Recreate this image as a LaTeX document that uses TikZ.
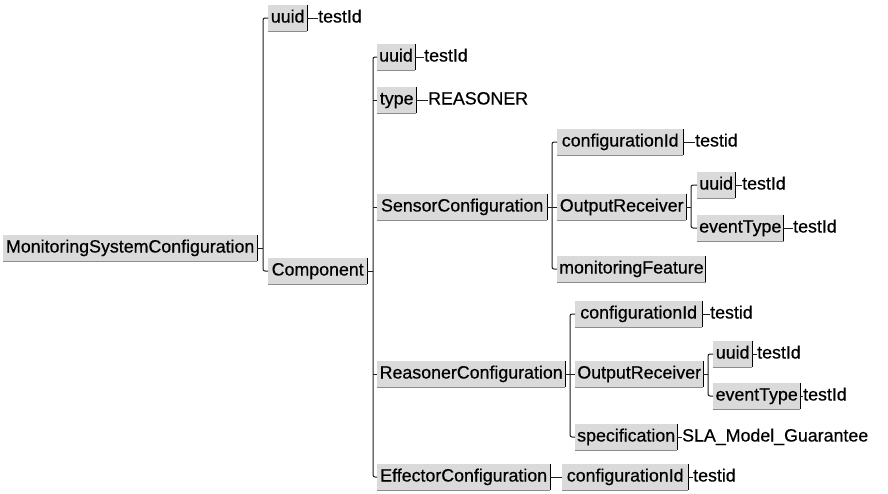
\documentclass[tikz,border=0pt]{standalone}
\usepackage{fontspec}
\setmainfont{Liberation Sans}[FakeBold=0.6]
\definecolor{boxfill}{RGB}{218,218,218}
\definecolor{edgegray}{RGB}{140,140,140}
\definecolor{linecol}{RGB}{30,30,30}
\newcommand{\mybox}[5]{\node[bx, minimum width={(#3-#2)*1pt}] (#1) at (#2,#4) {#5};}
\newcommand{\myval}[4]{\node[valtext] (#1) at (#2,#3) {#4};}
\begin{document}
\begin{tikzpicture}[x=1pt,y=-1pt,
  bx/.style={fill=boxfill, anchor=west, minimum height=26pt, inner xsep=2pt, inner ysep=0pt,
    text height=12.8pt, text depth=3.8pt, font=\fontsize{17.8pt}{20pt}\selectfont},
  valtext/.style={anchor=west, inner sep=0pt, text height=12.8pt, text depth=3.8pt,
    font=\fontsize{17.8pt}{20pt}\selectfont},
  conn/.style={draw=linecol, line width=1pt},
  bus/.style={conn, rounded corners=2pt}]
\useasboundingbox[fill=white] (0,0) rectangle (888,493);

% level 0 and 1
\mybox{msc}{3}{257}{248}{MonitoringSystemConfiguration}
\mybox{uuidA}{268}{307}{18}{uuid}
\myval{vA}{318}{18}{testId}
\mybox{comp}{268}{367}{271}{Component}

% level 2
\mybox{uuidB}{377}{414}{57}{uuid}
\myval{vB}{424}{57}{testId}
\mybox{type}{377}{416}{100}{type}
\myval{vT}{428}{100}{REASONER}
\mybox{sens}{377}{547}{207}{SensorConfiguration}
\mybox{reas}{377}{565}{374}{ReasonerConfiguration}
\mybox{eff}{377}{550}{477}{EffectorConfiguration}

% sensor subtree
\mybox{cidS}{557}{683}{142}{configurationId}
\myval{vcS}{695}{142}{testid}
\mybox{orS}{557}{686}{207}{OutputReceiver}
\mybox{mf}{557}{703}{269}{monitoringFeature}
\mybox{uuidS}{697}{735}{185}{uuid}
\myval{vuS}{742}{185}{testId}
\mybox{etS}{697}{783}{228}{eventType}
\myval{veS}{793}{228}{testId}

% reasoner subtree
\mybox{cidR}{575}{702}{314}{configurationId}
\myval{vcR}{710}{314}{testid}
\mybox{orR}{575}{703}{374}{OutputReceiver}
\mybox{spec}{575}{677}{437}{specification}
\myval{vsp}{682}{437}{SLA\_Model\_Guarantee}
\mybox{uuidR}{713}{752}{354}{uuid}
\myval{vuR}{757}{354}{testId}
\mybox{etR}{713}{800}{396}{eventType}
\myval{veR}{803}{396}{testId}

% effector subtree
\mybox{cidE}{562}{688}{477}{configurationId}
\myval{vcE}{693}{477}{testid}

% box edges
\foreach \n in {msc,uuidA,comp,uuidB,type,sens,reas,eff,cidS,orS,mf,uuidS,etS,cidR,orR,spec,uuidR,etR,cidE}{
  \draw[edgegray, line width=1pt] (\n.south west) -- (\n.south east);
  \draw[black, line width=1pt] (\n.north east) -- (\n.south east);
}

% bus coordinates
\coordinate (b0) at (263,0);
\coordinate (b1) at (373,0);
\coordinate (b2) at (552,0);
\coordinate (b3) at (691,0);
\coordinate (b4) at (570,0);
\coordinate (b5) at (708,0);

% MSC tree
\draw[conn] (msc.east) -- (msc.east -| b0);
\draw[bus] (uuidA.west) -| (b0 |- comp.west) -- (comp.west);
\draw[conn] (uuidA.east) -- (vA.west);

% Component tree
\draw[conn] (comp.east) -- (comp.east -| b1);
\draw[bus] (uuidB.west) -| (b1 |- eff.west) -- (eff.west);
\draw[conn] (b1 |- type.west) -- (type.west);
\draw[conn] (b1 |- sens.west) -- (sens.west);
\draw[conn] (b1 |- reas.west) -- (reas.west);
\draw[conn] (uuidB.east) -- (vB.west);
\draw[conn] (type.east) -- (vT.west);

% Sensor tree
\draw[conn] (sens.east) -- (sens.east -| b2);
\draw[bus] (cidS.west) -| (b2 |- mf.west) -- (mf.west);
\draw[conn] (b2 |- orS.west) -- (orS.west);
\draw[conn] (cidS.east) -- (vcS.west);
\draw[conn] (orS.east) -- (orS.east -| b3);
\draw[bus] (uuidS.west) -| (b3 |- etS.west) -- (etS.west);
\draw[conn] (uuidS.east) -- (vuS.west);
\draw[conn] (etS.east) -- (veS.west);

% Reasoner tree
\draw[conn] (reas.east) -- (reas.east -| b4);
\draw[bus] (cidR.west) -| (b4 |- spec.west) -- (spec.west);
\draw[conn] (b4 |- orR.west) -- (orR.west);
\draw[conn] (cidR.east) -- (vcR.west);
\draw[conn] (spec.east) -- (vsp.west);
\draw[conn] (orR.east) -- (orR.east -| b5);
\draw[bus] (uuidR.west) -| (b5 |- etR.west) -- (etR.west);
\draw[conn] (uuidR.east) -- (vuR.west);
\draw[conn] (etR.east) -- (veR.west);

% Effector tree
\draw[conn] (eff.east) -- (cidE.west);
\draw[conn] (cidE.east) -- (vcE.west);
\end{tikzpicture}
\end{document}
